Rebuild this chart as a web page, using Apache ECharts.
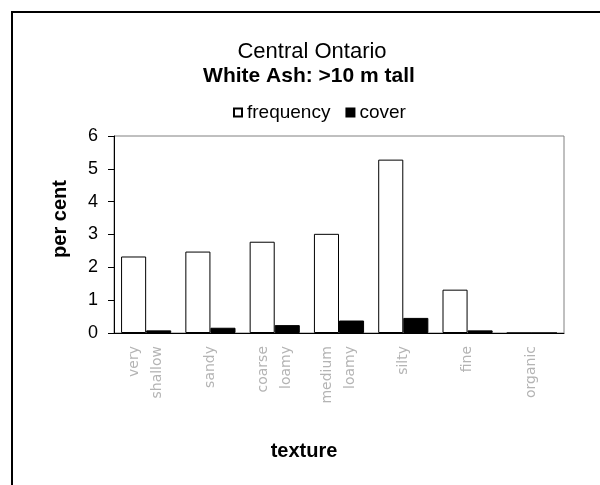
<!DOCTYPE html>
<html><head><meta charset="utf-8">
<script src="https://cdn.jsdelivr.net/npm/echarts@6/dist/echarts.min.js"></script>
<style>html,body{margin:0;padding:0;background:#fff}#c{width:600px;height:485px}</style>
</head><body><div id="c"></div>
<script>
const categories = ['very\nshallow', 'sandy', 'coarse\nloamy', 'medium\nloamy', 'silty', 'fine', 'organic'];
const frequency = [2.33, 2.48, 2.78, 3.02, 5.28, 1.32, 0];
const cover = [0.08, 0.16, 0.24, 0.38, 0.46, 0.08, 0];
const yTicks = [0, 1, 2, 3, 4, 5, 6];

const chart = echarts.init(document.getElementById('c'), null, {renderer: 'canvas'});
chart.setOption({
  backgroundColor: '#fff',
  animation: false,
  textStyle: {fontFamily: 'Arial, "Liberation Sans", sans-serif'},
  title: [
    {text: 'Central Ontario', left: 307, top: 36, textAlign: 'center',
     textStyle: {fontSize: 22, fontWeight: 'normal', color: '#000'}},
    {text: 'White Ash: >10 m tall', left: 304, top: 61, textAlign: 'center',
     textStyle: {fontSize: 21, fontWeight: 'bold', color: '#000'}}
  ],
  legend: {
    top: 98, left: 228, itemWidth: 8, itemHeight: 8, itemGap: 15,
    icon: 'rect',
    textStyle: {fontSize: 19, color: '#000'},
    data: ['frequency', 'cover']
  },
  grid: {left: 114, right: 36, top: 136, bottom: 152, show: true, borderColor: '#808080', borderWidth: 1},
  xAxis: {
    type: 'category', data: categories,
    name: 'texture', nameLocation: 'middle', nameGap: 108,
    nameTextStyle: {fontSize: 20, fontWeight: 'bold', color: '#000', padding: [0, 70, 0, 0]},
    axisLine: {lineStyle: {color: '#000', width: 1}},
    axisTick: {show: false},
    axisLabel: {rotate: 90, margin: 13, fontSize: 14, fontFamily: '"DejaVu Sans", sans-serif',
      color: '#b4b4b4', lineHeight: 23, interval: 0}
  },
  yAxis: {
    type: 'value', min: 0, max: 6, interval: 1,
    name: 'per cent', nameLocation: 'middle', nameGap: 44, nameRotate: 90,
    nameTextStyle: {fontSize: 20, fontWeight: 'bold', color: '#000', padding: [0, 0, 0, 31]},
    axisLine: {show: true, lineStyle: {color: '#000', width: 1}},
    axisTick: {show: true, inside: false, length: 6, lineStyle: {color: '#000'}},
    splitLine: {show: false},
    axisLabel: {fontSize: 18, color: '#000', margin: 16,
      formatter: v => yTicks.includes(v) ? String(v) : ''}
  },
  series: [
    {name: 'frequency', type: 'bar', data: frequency, barGap: '0%', barCategoryGap: '22%',
     itemStyle: {color: '#fff', borderColor: '#000', borderWidth: 1}},
    {name: 'cover', type: 'bar', data: cover,
     itemStyle: {color: '#000', borderColor: '#000', borderWidth: 1}}
  ],
  graphic: [
    {type: 'rect', shape: {x: 12, y: 12, width: 800, height: 800},
     style: {fill: 'none', stroke: '#000', lineWidth: 2}, silent: true}
  ]
});
</script>
</body></html>
